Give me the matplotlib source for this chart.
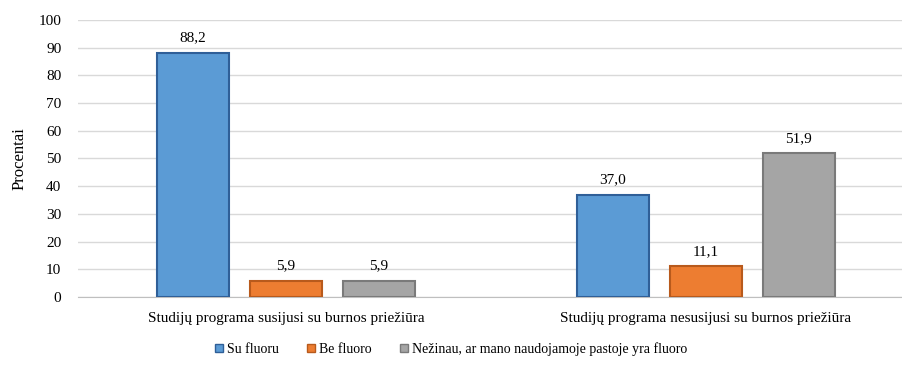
import numpy as np
import matplotlib.pyplot as plt
from matplotlib.patches import Patch

plt.rcParams['font.family'] = ['Liberation Serif', 'DejaVu Serif']

categories = ['Studijų programa susijusi su burnos priežiūra',
              'Studijų programa nesusijusi su burnos priežiūra']
series = ['Su fluoru', 'Be fluoro', 'Nežinau, ar mano naudojamoje pastoje yra fluoro']
su_fluoru = [88.2, 37.0]
be_fluoro = [5.9, 11.1]
nezinau = [5.9, 51.9]

values = [su_fluoru, be_fluoro, nezinau]
faces = ['#5b9bd5', '#ed7d31', '#a5a5a5']
edges = ['#2f5f98', '#b85a1c', '#7a7a7a']

fig = plt.figure(figsize=(9.02, 3.67), dpi=100)
ax = fig.add_axes([78 / 902, 1 - 297 / 367, 824 / 902, 277 / 367])

x = np.arange(len(categories))
w = 0.171
step = 0.221
for i, vals in enumerate(values):
    pos = x + (i - 1) * step
    bars = ax.bar(pos, vals, w, color=faces[i], edgecolor=edges[i], linewidth=1.5, zorder=3)
    for b, v in zip(bars, vals):
        ax.text(b.get_x() + b.get_width() / 2, v + 3, f'{v:.1f}'.replace('.', ','),
                ha='center', va='bottom', fontsize=11)

ax.set_xlim(-0.495, 1.467)
ax.set_ylim(0, 100)
ax.set_yticks(range(0, 101, 10))
ax.set_xticks(x)
ax.set_xticklabels(categories, fontsize=11)
ax.tick_params(axis='y', labelsize=11, length=0, pad=12)
ax.tick_params(axis='x', length=0, pad=11)
ax.grid(axis='y', color='#d9d9d9', linewidth=1, zorder=0)
for s in ['top', 'right', 'left']:
    ax.spines[s].set_visible(False)
ax.spines['bottom'].set_color('#bfbfbf')
ax.set_ylabel('Procentai', fontsize=12, labelpad=8)

handles = [Patch(facecolor=faces[i], edgecolor=edges[i]) for i in range(3)]
fig.legend(handles, series, loc='center', bbox_to_anchor=(0.5, 1 - 349 / 367), ncol=3,
           frameon=False, fontsize=10, handlelength=0.6, handleheight=0.6,
           handletextpad=0.3, columnspacing=2.0)

fig.savefig('out.png', dpi=100)
